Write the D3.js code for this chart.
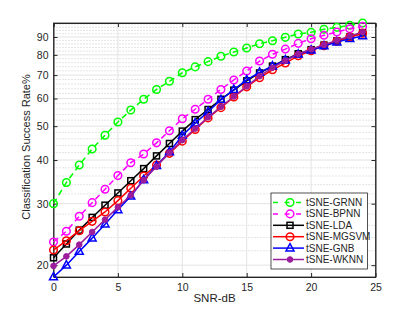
<!DOCTYPE html>
<html>
<head>
<meta charset="utf-8">
<script src="https://cdnjs.cloudflare.com/ajax/libs/d3/7.8.5/d3.min.js"></script>
<style>
    body { margin: 0; background: #fff; }
    text { font-family: "Liberation Sans", Arial, sans-serif; fill: #262626; }
</style>
</head>
<body>
<div id="chart-container"></div>
<script>
var snr = [0, 1, 2, 3, 4, 5, 6, 7, 8, 9, 10, 11, 12, 13, 14, 15, 16, 17, 18, 19, 20, 21, 22, 23, 24];

var grnn = [30, 34.5, 38.7, 43, 47.1, 51.4, 55.6, 59.7, 63.7, 67.2, 71.1, 73.9, 76.5, 79.3, 81.5, 83.7, 86.1, 87.8, 89.8, 91.8, 92.8, 94.7, 95.9, 97.2, 98.7];
var bpnn = [23.3, 25.0, 27.6, 30.2, 33.0, 36.1, 39.3, 41.6, 44.8, 48.5, 52.5, 55.9, 59.7, 63.7, 67.8, 71.9, 76.8, 80.3, 83.1, 86.3, 89.0, 91.0, 93.0, 95.0, 96.5];
var lda = [21.0, 23.0, 25.2, 27.4, 29.7, 32.2, 34.9, 37.8, 41.1, 44.6, 48.4, 52.2, 55.8, 59.7, 63.4, 67.4, 71.0, 74.3, 77.5, 80.6, 82.8, 85.3, 87.7, 90.0, 92.4];
var mgsvm = [22.1, 23.5, 25.1, 26.7, 28.4, 30.6, 33.2, 36.0, 38.7, 41.8, 45.3, 48.9, 52.8, 56.5, 60.6, 64.8, 68.8, 72.5, 75.8, 79.5, 82.2, 85.0, 87.5, 90.0, 92.3];
var gnb = [18.5, 20.0, 21.9, 23.9, 26.2, 28.8, 31.5, 35.1, 38.5, 42.2, 47.0, 51.0, 55.0, 59.5, 63.6, 67.8, 71.3, 74.3, 77.3, 80.3, 82.5, 84.8, 87.0, 89.0, 90.6];
var wknn = [19.9, 21.2, 22.9, 24.9, 27.0, 29.3, 31.7, 35.0, 38.3, 42.0, 45.6, 49.2, 53.0, 56.8, 60.8, 65.0, 69.5, 73.5, 77.0, 80.5, 83.0, 85.5, 88.0, 90.5, 93.0];

var seriesNames = ["tSNE-GRNN", "tSNE-BPNN", "tSNE-LDA", "tSNE-MGSVM", "tSNE-GNB", "tSNE-WKNN"];
var xTicks = [0, 5, 10, 15, 20, 25];
var yTicks = [20, 30, 40, 50, 60, 70, 80, 90];
var yMinorTicks = [22, 24, 26, 28, 32, 34, 36, 38, 42, 44, 46, 48, 52, 54, 56, 58, 62, 64, 66, 68, 72, 74, 76, 78, 82, 84, 86, 88, 92, 94, 96, 98];

var styles = [
    { color: "#00ff00", dash: "6,4", marker: "circle" },
    { color: "#ff00ff", dash: "6,4", marker: "circle" },
    { color: "#000000", dash: null, marker: "square" },
    { color: "#ff0000", dash: null, marker: "circle" },
    { color: "#0000ff", dash: null, marker: "triangle" },
    { color: "#9c1c9c", dash: null, marker: "dot" }
];

var allSeries = [grnn, bpnn, lda, mgsvm, gnb, wknn];

var margin = { top: 23, right: 39.5, bottom: 35, left: 53.5 };
var width = 415 - margin.left - margin.right;
var height = 312 - margin.top - margin.bottom;

var svg = d3.select("#chart-container")
    .append("svg")
    .attr("width", 415)
    .attr("height", 312);

var g = svg.append("g")
    .attr("transform", "translate(" + margin.left + "," + margin.top + ")");

var x = d3.scaleLinear().domain([0, 25]).range([0, width]);
var y = d3.scaleLog().domain([18.5, 98.7]).range([height, 0]);

// minor grid (dotted)
g.selectAll(".minor-grid")
    .data(yMinorTicks.filter(function(d) { return d < 98.7; }))
    .enter().append("line")
    .attr("x1", 0).attr("x2", width)
    .attr("y1", function(d) { return y(d); })
    .attr("y2", function(d) { return y(d); })
    .attr("stroke", "#bdbdbd")
    .attr("stroke-width", 0.8)
    .attr("stroke-dasharray", "1,2");

// major grid
g.selectAll(".ygrid")
    .data(yTicks)
    .enter().append("line")
    .attr("x1", 0).attr("x2", width)
    .attr("y1", function(d) { return y(d); })
    .attr("y2", function(d) { return y(d); })
    .attr("stroke", "#e3e3e3")
    .attr("stroke-width", 1);

g.selectAll(".xgrid")
    .data(xTicks)
    .enter().append("line")
    .attr("y1", 0).attr("y2", height)
    .attr("x1", function(d) { return x(d); })
    .attr("x2", function(d) { return x(d); })
    .attr("stroke", "#e3e3e3")
    .attr("stroke-width", 1);

// axes
var xAxis = d3.axisBottom(x).tickValues(xTicks).tickSizeInner(-4).tickSizeOuter(0).tickPadding(7);
var yAxis = d3.axisLeft(y).tickValues(yTicks).tickFormat(d3.format("d")).tickSizeInner(-4).tickSizeOuter(0).tickPadding(5);

g.append("g").attr("transform", "translate(0," + height + ")").call(xAxis);
g.append("g").call(yAxis);
g.append("g")
    .call(d3.axisTop(x).tickValues(xTicks).tickSize(-4).tickFormat(""));
g.append("g").attr("transform", "translate(" + width + ",0)")
    .call(d3.axisRight(y).tickValues(yTicks).tickSize(-4).tickFormat(""));

g.selectAll(".domain").attr("stroke", "#262626");
g.selectAll(".tick line").attr("stroke", "#262626");
g.selectAll(".tick text").style("font-size", "10.5px").attr("fill", "#262626");

g.append("rect")
    .attr("width", width).attr("height", height)
    .attr("fill", "none")
    .attr("stroke", "#262626")
    .attr("stroke-width", 0.8);

// labels
svg.append("text")
    .text("SNR-dB")
    .attr("text-anchor", "middle")
    .attr("x", margin.left + width / 2)
    .attr("y", 302)
    .style("font-size", "11.5px");

svg.append("text")
    .text("Classification Success Rate%")
    .attr("text-anchor", "middle")
    .attr("transform", "translate(30,147) rotate(-90)")
    .style("font-size", "11px");

function drawMarker(sel, style) {
    if (style.marker === "circle") {
        sel.append("circle").attr("r", 3.8)
            .attr("fill", "none").attr("stroke", style.color).attr("stroke-width", 1.5);
    } else if (style.marker === "square") {
        sel.append("rect").attr("x", -3).attr("y", -3).attr("width", 6).attr("height", 6)
            .attr("fill", "none").attr("stroke", style.color).attr("stroke-width", 1.5);
    } else if (style.marker === "triangle") {
        sel.append("path").attr("d", "M0,-4.5L4,2.8L-4,2.8Z")
            .attr("fill", "none").attr("stroke", style.color).attr("stroke-width", 1.5);
    } else {
        sel.append("circle").attr("r", 2.8)
            .attr("fill", style.color).attr("stroke", style.color).attr("stroke-width", 1);
    }
}

var line = d3.line()
    .x(function(d, i) { return x(snr[i]); })
    .y(function(d) { return y(d); });

allSeries.forEach(function(values, k) {
    var style = styles[k];
    var s = g.append("g").attr("class", "series");
    s.append("path")
        .datum(values)
        .attr("d", line)
        .attr("fill", "none")
        .attr("stroke", style.color)
        .attr("stroke-width", 1.5)
        .attr("stroke-dasharray", style.dash);
    s.selectAll(".pt")
        .data(values)
        .enter().append("g")
        .attr("transform", function(d, i) { return "translate(" + x(snr[i]) + "," + y(d) + ")"; })
        .each(function() { drawMarker(d3.select(this), style); });
});

// legend
var legend = svg.append("g").attr("transform", "translate(271,193)");
legend.append("rect")
    .attr("width", 96.5).attr("height", 76)
    .attr("fill", "#fff")
    .attr("stroke", "#262626")
    .attr("stroke-width", 0.8);

seriesNames.forEach(function(name, k) {
    var style = styles[k];
    var row = legend.append("g").attr("transform", "translate(0," + (9.5 + k * 11.4) + ")");
    row.append("line")
        .attr("x1", 2).attr("x2", 33)
        .attr("stroke", style.color)
        .attr("stroke-width", 1.5)
        .attr("stroke-dasharray", style.dash ? "5,6.5" : null);
    drawMarker(row.append("g").attr("transform", "translate(19,0)"), style);
    row.append("text")
        .text(name)
        .attr("x", 35)
        .attr("dy", "0.35em")
        .style("font-size", "10px");
});
</script>
</body>
</html>
